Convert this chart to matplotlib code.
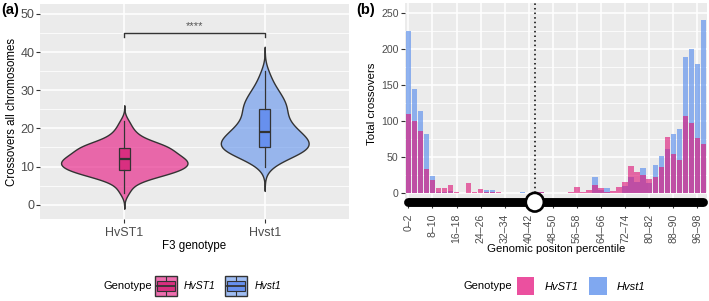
import numpy as np
import matplotlib
matplotlib.use("Agg")
import matplotlib.pyplot as plt
from matplotlib.patches import Rectangle, Ellipse, Patch
from matplotlib.lines import Line2D
from matplotlib.legend_handler import HandlerBase

plt.rcParams['font.family'] = ['Liberation Sans', 'DejaVu Sans']

# ---------------- data ----------------
genotypes = ["HvST1", "Hvst1"]
# panel (a): crossovers per F3 plant, as frequency tables (value -> number of plants)
hvST1_values = list(range(3, 23))
hvST1_counts = [1, 1, 1, 2, 4, 7, 9, 10, 10, 10, 8, 7, 8, 6, 3, 2, 2, 1, 1, 1]
hvst1_values = list(range(10, 36))
hvst1_counts = [1, 2, 3, 5, 8, 9, 8, 7, 7, 6, 5, 4, 4, 4, 2, 5, 4, 3, 3, 3, 2, 2, 1, 1, 1, 1]

# panel (b): total crossovers per 2% genomic position bin
bin_labels = [f"{i}\u2013{i + 2}" for i in range(0, 100, 2)]
hvST1_xo = [110, 100, 86, 34, 19, 7, 7, 12, 2, 0, 14, 2, 6, 2, 2, 2, 0, 0, 0, 0,
            0, 0, 1, 0, 0, 0, 0, 2, 8, 1, 5, 12, 7, 2, 3, 8, 15, 38, 29, 26,
            20, 23, 36, 78, 55, 46, 107, 97, 77, 68]
hvst1_xo = [226, 145, 114, 83, 24, 2, 2, 3, 0, 0, 0, 0, 0, 5, 5, 0, 0, 0, 0, 2,
            0, 0, 2, 0, 0, 0, 0, 0, 0, 0, 0, 22, 4, 7, 0, 0, 10, 23, 15, 35,
            14, 39, 52, 62, 82, 89, 190, 200, 180, 241]
centromere_bin = 21

# ---------------- style ----------------
pink = "#DE1478"
blue = "#6495ED"
violin_cols = [(0.906, 0.161, 0.541, 0.68), (0.392, 0.584, 0.929, 0.62)]
box_cols = ["#D92F80", "#6790EE"]
panel_bg = "#EBEBEB"
tick_col = "#4D4D4D"
dark = "#333333"

W, H = 709, 301
fig = plt.figure(figsize=(W / 100, H / 100), dpi=100)


def fbox(l, t, r, b):
    return [l / W, 1 - b / H, (r - l) / W, (b - t) / H]


def style_axes(ax):
    ax.set_facecolor(panel_bg)
    for s in ax.spines.values():
        s.set_visible(False)
    ax.grid(which='major', color='white', lw=1.1)
    ax.grid(which='minor', axis='y', color='white', lw=0.55)
    ax.set_axisbelow(True)
    ax.tick_params(which='major', color=dark, length=3, width=0.8, labelcolor=tick_col)
    ax.tick_params(which='minor', length=0)


# ---------------- panel (a) ----------------
axa = fig.add_axes(fbox(40, 4, 349, 219))
style_axes(axa)


def kde(values, counts):
    data = np.repeat(np.array(values, float), counts)
    n = len(data)
    sd = data.std(ddof=1)
    q75, q25 = np.percentile(data, [75, 25])
    bw = 0.9 * min(sd, (q75 - q25) / 1.34) * n ** -0.2
    y = np.linspace(data.min() - 3 * bw, data.max() + 3 * bw, 512)
    d = np.exp(-0.5 * ((y[:, None] - data[None, :]) / bw) ** 2).sum(1) / (n * bw * np.sqrt(2 * np.pi))
    return data, y, d


dens = [kde(hvST1_values, hvST1_counts), kde(hvst1_values, hvst1_counts)]
dmax = max(d.max() for _, _, d in dens)
for i, (data, y, d) in enumerate(dens):
    w = d / dmax * 0.45
    axa.fill_betweenx(y, i - w, i + w, facecolor=violin_cols[i], edgecolor=dark, lw=1.0, zorder=2)
    bp = axa.boxplot(data, positions=[i], widths=0.08, patch_artist=True, showcaps=False,
                     showfliers=False, whis=1.5, manage_ticks=False, zorder=3)
    for b in bp['boxes']:
        b.set(facecolor=box_cols[i], edgecolor=dark, lw=0.9)
    for m in bp['medians']:
        m.set(color=dark, lw=1.6)
    for wsk in bp['whiskers']:
        wsk.set(color=dark, lw=0.9)

axa.plot([0, 0, 1, 1], [44.0, 45.0, 45.0, 44.0], color=dark, lw=1.0)
axa.text(0.5, 45.6, "****", ha='center', va='bottom', color='#555555', fontsize=8)

axa.set_xlim(-0.6, 1.6)
axa.set_ylim(-3.75, 52.6)
axa.set_xticks([0, 1])
axa.set_xticklabels(genotypes)
axa.set_yticks([0, 10, 20, 30, 40, 50])
axa.set_yticks([5, 15, 25, 35, 45], minor=True)
axa.tick_params(labelsize=9)
axa.tick_params(axis='y', pad=1.0)
axa.tick_params(axis='x', pad=2.5)
axa.set_xlabel("F3 genotype", fontsize=8.3, labelpad=1)
axa.set_ylabel("Crossovers all chromosomes", fontsize=8.3, labelpad=2)

# ---------------- panel (b) ----------------
axb = fig.add_axes(fbox(404.8, 3.3, 707, 204))
style_axes(axb)
x = np.arange(len(bin_labels))
axb.bar(x, hvst1_xo, width=0.9, color=blue, alpha=0.7, lw=0, zorder=2)
axb.bar(x, hvST1_xo, width=0.9, color=pink, alpha=0.62, lw=0, zorder=3)
axb.set_xlim(-0.6, len(bin_labels) - 0.4)
axb.set_ylim(-15, 264)
axb.set_yticks([0, 50, 100, 150, 200, 250])
axb.set_yticks([25, 75, 125, 175, 225], minor=True)
axb.set_xticks(x[::4])
axb.set_xticklabels(bin_labels[::4], rotation=90)
axb.tick_params(labelsize=7.6)
axb.tick_params(axis='x', pad=4)
axb.tick_params(axis='y', pad=1.5)
axb.set_xlabel("Genomic positon percentile", fontsize=8.2, labelpad=1)
axb.set_ylabel("Total crossovers", fontsize=8.2, labelpad=3)

# chromosome ideogram and centromere
axb.plot([0, len(bin_labels) - 1], [-12.5, -12.5], color='black', lw=6.4,
         solid_capstyle='round', clip_on=False, zorder=5)
axb.plot([centromere_bin, centromere_bin], [-12.5, 264], color='black', lw=1.1,
         ls=(0, (1, 2)), zorder=4)
axb.add_patch(Ellipse((centromere_bin, -12.5), 3.0, 26, facecolor='white', edgecolor='black',
                      lw=1.9, clip_on=False, zorder=6))

# ---------------- legends ----------------
class ViolinBoxHandler(HandlerBase):
    def __init__(self, vcolor, bcolor):
        super().__init__()
        self.vc = vcolor
        self.bc = bcolor

    def create_artists(self, legend, orig_handle, xdescent, ydescent, width, height, fontsize, trans):
        x0, y0 = -xdescent, -ydescent
        arts = [
            Rectangle((x0, y0), width, height, facecolor=self.vc, edgecolor=dark, lw=1.0, transform=trans),
            Rectangle((x0 + 0.1 * width, y0 + 0.27 * height), 0.8 * width, 0.46 * height,
                      facecolor=self.bc, edgecolor=dark, lw=0.8, transform=trans),
            Line2D([x0 + 0.1 * width, x0 + 0.9 * width], [y0 + 0.5 * height] * 2, color=dark, lw=1.3, transform=trans),
            Line2D([x0 + 0.5 * width] * 2, [y0 + 0.05 * height, y0 + 0.27 * height], color=dark, lw=0.8, transform=trans),
            Line2D([x0 + 0.5 * width] * 2, [y0 + 0.73 * height, y0 + 0.95 * height], color=dark, lw=0.8, transform=trans),
        ]
        return arts


ha1, ha2 = Patch(), Patch()
leg_y = 1 - 286 / H
fig.text(152 / W, leg_y, "Genotype", ha='right', va='center', fontsize=8)
fig.legend([ha1, ha2], genotypes, loc='center left', bbox_to_anchor=(155 / W, leg_y),
           ncol=2, frameon=False, prop={'style': 'italic', 'size': 7.5},
           handlelength=2.1, handleheight=2.7, handletextpad=0.7, columnspacing=0.9,
           borderpad=0, borderaxespad=0,
           handler_map={ha1: ViolinBoxHandler((0.906, 0.161, 0.541, 0.68), box_cols[0]),
                        ha2: ViolinBoxHandler((0.392, 0.584, 0.929, 0.62), box_cols[1])})

hb1 = Patch(facecolor="#E7298A", alpha=0.82, lw=0)
hb2 = Patch(facecolor=blue, alpha=0.82, lw=0)
fig.text(512 / W, leg_y, "Genotype", ha='right', va='center', fontsize=8)
fig.legend([hb1, hb2], genotypes, loc='center left', bbox_to_anchor=(517 / W, leg_y),
           ncol=2, frameon=False, prop={'style': 'italic', 'size': 8},
           handlelength=1.55, handleheight=2.0, handletextpad=0.9, columnspacing=1.0,
           borderpad=0, borderaxespad=0)

# panel tags
fig.text(1 / W, 1 - 10 / H, "(a)", fontsize=10.5, fontweight='bold', va='center', ha='left')
fig.text(356 / W, 1 - 10 / H, "(b)", fontsize=10.5, fontweight='bold', va='center', ha='left')

fig.savefig("out.png", dpi=100)
